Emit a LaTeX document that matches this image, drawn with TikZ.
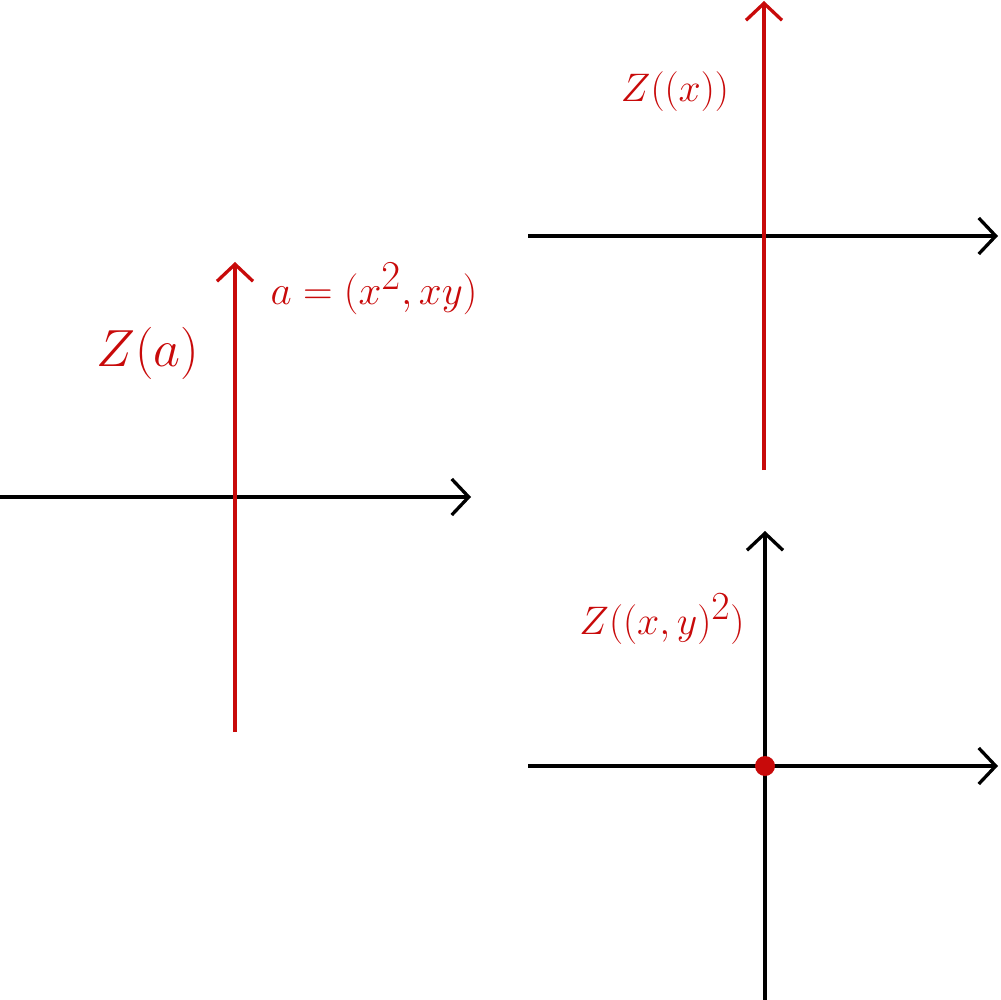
\documentclass[tikz,border=0pt]{standalone}
\usepackage{graphicx}
\usetikzlibrary{arrows.meta}
\definecolor{penred}{RGB}{200,10,10}
\begin{document}
\begin{tikzpicture}[x=1pt,y=-1pt,
  axis/.style={line width=3.3pt,-{Straight Barb[length=17pt,width=36pt,line width=3.3pt]}},
  lbl/.style={text=penred,inner sep=0pt,font=\fontsize{34}{40}\selectfont}]
\useasboundingbox (0,0) rectangle (1001,1000);
% left system
\coordinate (L0) at (0,497);
\coordinate (L1) at (471,497);
\coordinate (L2) at (235,732);
\coordinate (L3) at (235,262);
\draw[axis,black] (L0) -- (L1);
\draw[axis,penred] (L2) -- (L3);
\node[lbl] (za) at (148,353) {\scalebox{2.1}{$Z(a)$}};
\node[lbl] (adef) at (374,289) {\scalebox{1.65}{$a=(x^2,xy)$}};
% top right system
\coordinate (T0) at (528,236);
\coordinate (T1) at (998,236);
\coordinate (T2) at (764,470);
\coordinate (T3) at (764,1);
\draw[axis,black] (T0) -- (T1);
\draw[axis,penred] (T2) -- (T3);
\node[lbl] (zx) at (675,92) {\scalebox{1.6}{$Z((x))$}};
% bottom right system
\coordinate (B0) at (528,766);
\coordinate (B1) at (998,766);
\coordinate (B2) at (765,1000);
\coordinate (B3) at (765,531);
\draw[axis,black] (B0) -- (B1);
\draw[axis,black] (B2) -- (B3);
\fill[penred] (765,766) circle[radius=10];
\node[lbl] (zxy) at (662,619) {\scalebox{1.6}{$Z((x,y)^2)$}};
\end{tikzpicture}
\end{document}
